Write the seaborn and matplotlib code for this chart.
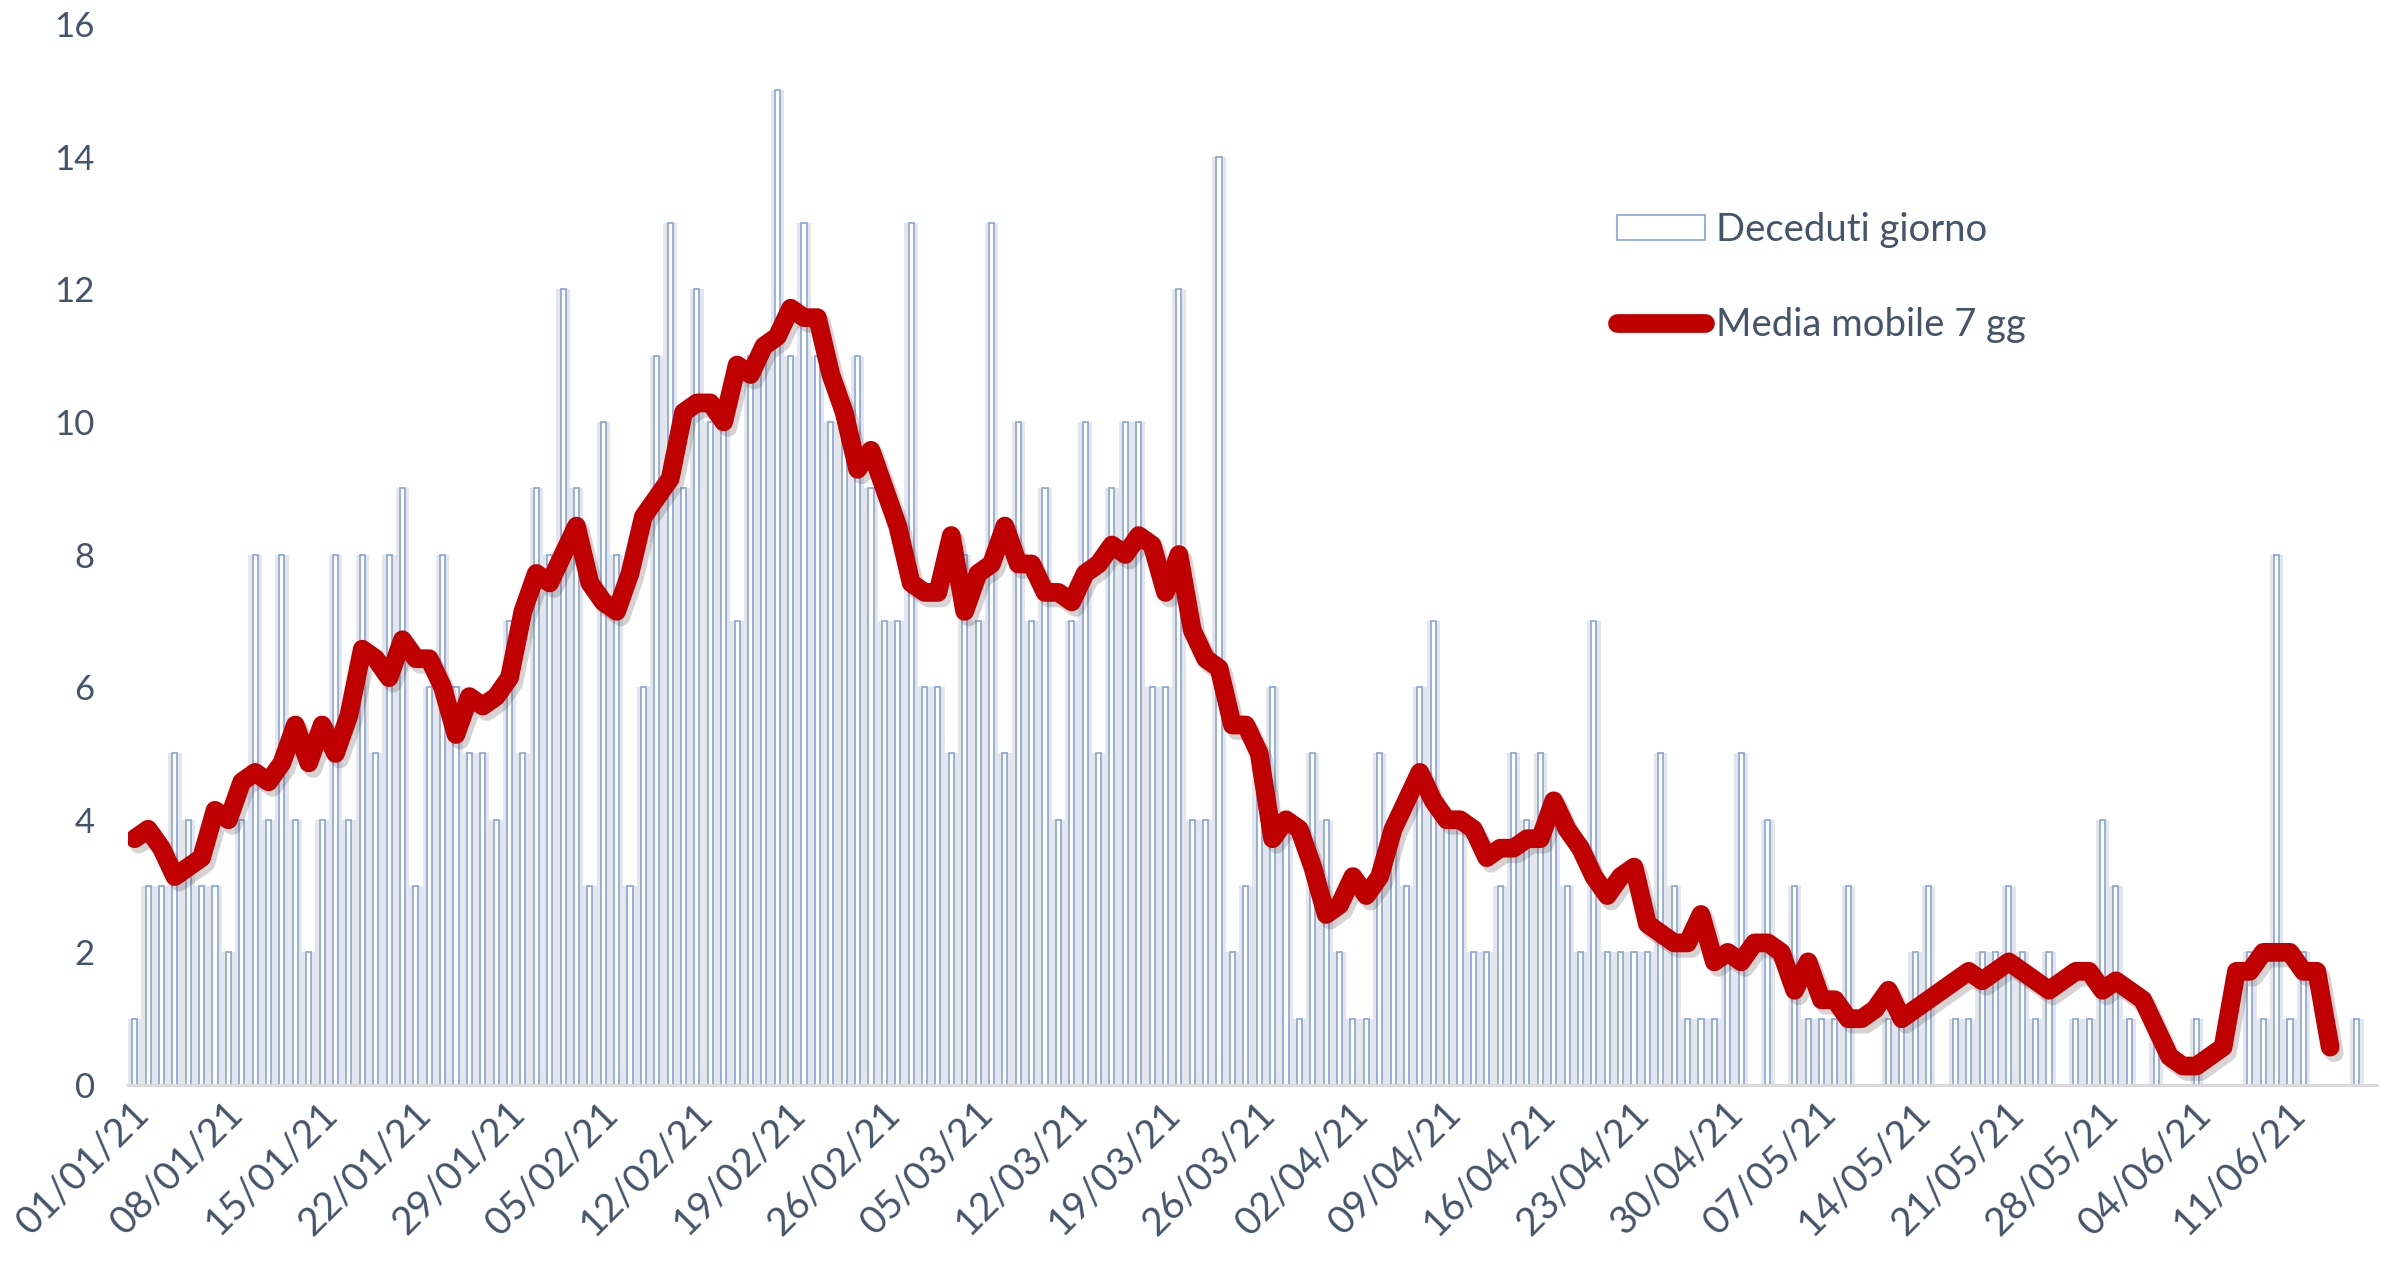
import pandas as pd
import matplotlib
matplotlib.use('Agg')
from matplotlib import pyplot as plt
from matplotlib import patheffects as pe
from matplotlib import transforms
from matplotlib.patches import Patch
from matplotlib.lines import Line2D
import seaborn as sns

# deceduti giornalieri, 01/01/21 - 17/06/21
gennaio = [1, 3, 3, 5, 4, 3, 3, 2, 4, 8, 4, 8, 4, 2, 4, 8, 4, 8, 5, 8, 9, 3, 6, 8, 6, 5, 5, 4, 7, 5, 9]
febbraio = [8, 12, 9, 3, 10, 8, 3, 6, 11, 13, 9, 12, 10, 10, 7, 11, 11, 15, 11, 13, 11, 10, 10, 11, 9, 7, 7, 13]
marzo = [6, 6, 5, 8, 7, 13, 5, 10, 7, 9, 4, 7, 10, 5, 9, 10, 10, 6, 6, 12, 4, 4, 14, 2, 3, 5, 6, 4, 1, 5, 4]
aprile = [2, 1, 1, 5, 4, 3, 6, 7, 4, 4, 2, 2, 3, 5, 4, 5, 4, 3, 2, 7, 2, 2, 2, 2, 5, 3, 1, 1, 1, 2]
maggio = [5, 0, 4, 0, 3, 1, 1, 1, 3, 0, 0, 1, 1, 2, 3, 0, 1, 1, 2, 2, 3, 2, 1, 2, 0, 1, 1, 4, 3, 1, 0]
giugno = [1, 0, 0, 1, 0, 0, 0, 2, 1, 8, 1, 2, 0, 0, 0, 1, 0]
# ultimi giorni di dicembre (servono solo per la media centrata dei primi giorni)
fine_dicembre = [3, 5, 6]

deceduti = gennaio + febbraio + marzo + aprile + maggio + giugno
giorni = pd.date_range('2021-01-01', periods=len(deceduti), freq='D')

media = pd.Series(fine_dicembre + deceduti).rolling(7, center=True).mean()
media = media.iloc[len(fine_dicembre):].reset_index(drop=True)

df = pd.DataFrame({'pos': range(len(deceduti)), 'deceduti': deceduti, 'media': media})

text_col = '#44546A'
bar_edge = '#8FAADC'
red = '#C00000'

sns.set_style('white')
plt.rcParams['font.family'] = ['Lato', 'DejaVu Sans']

fig = plt.figure(figsize=(23.9, 12.61), dpi=100)
ax = fig.add_axes([128 / 2390, 176 / 1261, (2377 - 128) / 2390, (1085 - 24) / 1261])

# soft glow behind the bars
sns.barplot(data=df, x='pos', y='deceduti', native_scale=True, width=1.0,
            color='#cfd6e1', alpha=0.6, linewidth=0, ax=ax, errorbar=None)
sns.barplot(data=df, x='pos', y='deceduti', native_scale=True, width=0.38,
            color='white', edgecolor=bar_edge, linewidth=1.3, ax=ax,
            errorbar=None, saturation=1)

sns.lineplot(data=df, x='pos', y='media', color=red, linewidth=13.5, ax=ax,
             solid_capstyle='round', solid_joinstyle='round',
             path_effects=[pe.SimpleLineShadow(offset=(3, -4), alpha=0.25, shadow_color='#555555'),
                           pe.Normal()])

ax.set_xlim(-0.5, len(deceduti) - 0.5)
ax.set_ylim(0, 16)
ax.set_yticks(range(0, 17, 2))
ax.set_xlabel('')
ax.set_ylabel('')

tick_pos = [i - 0.5 for i in range(0, len(deceduti), 7)]
ax.set_xticks(tick_pos)
ax.set_xticklabels([giorni[i].strftime('%d/%m/%y') for i in range(0, len(deceduti), 7)])

for s in ['top', 'right', 'left']:
    ax.spines[s].set_visible(False)
ax.spines['bottom'].set_color('#D9D9D9')
ax.spines['bottom'].set_linewidth(2.2)

ax.tick_params(axis='y', length=0, pad=24, labelsize=25, labelcolor=text_col)
ax.tick_params(axis='x', length=9, width=2, color='#D9D9D9', pad=4,
               labelsize=28, labelcolor=text_col)

offset = transforms.ScaledTranslation(0.16, -0.05, fig.dpi_scale_trans)
for lab in ax.get_xticklabels():
    lab.set_rotation(45)
    lab.set_rotation_mode('anchor')
    lab.set_ha('right')
    lab.set_va('center')
    lab.set_transform(lab.get_transform() + offset)

handles = [Patch(facecolor='white', edgecolor=bar_edge, linewidth=1.3),
           Line2D([0], [0], color=red, linewidth=13.5)]
fig.legend(handles, ['Deceduti giorno', 'Media mobile 7 gg'], loc='upper left',
           bbox_to_anchor=(1617 / 2390, 1 - 212 / 1261), frameon=False,
           fontsize=27.5, labelcolor=text_col, handlelength=2.3, handleheight=0.65,
           handletextpad=0.3, labelspacing=1.55, borderpad=0, borderaxespad=0)

fig.savefig('out.png', dpi=100)
